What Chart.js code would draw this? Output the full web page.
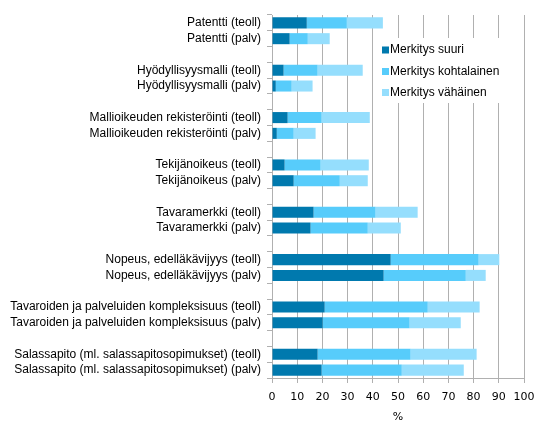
<!DOCTYPE html>
<html>
<head>
<meta charset="utf-8">
<script src="https://cdn.jsdelivr.net/npm/chart.js@4"></script>
<style>
  html, body { margin: 0; padding: 0; background: #fff; }
  #wrap { width: 550px; height: 441px; }
</style>
</head>
<body>
<div id="wrap"><canvas id="grafico" width="550" height="441"></canvas></div>
<script>
// Kategoriat (tyhjä rivi = väli ryhmien välissä)
const kategoriat = [
  "Patentti (teoll)", "Patentti (palv)", "",
  "Hyödyllisyysmalli (teoll)", "Hyödyllisyysmalli (palv)", "",
  "Mallioikeuden rekisteröinti (teoll)", "Mallioikeuden rekisteröinti (palv)", "",
  "Tekijänoikeus (teoll)", "Tekijänoikeus (palv)", "",
  "Tavaramerkki (teoll)", "Tavaramerkki (palv)", "",
  "Nopeus, edelläkävijyys (teoll)", "Nopeus, edelläkävijyys (palv)", "",
  "Tavaroiden ja palveluiden kompleksisuus (teoll)", "Tavaroiden ja palveluiden kompleksisuus (palv)", "",
  "Salassapito (ml. salassapitosopimukset) (teoll)", "Salassapito (ml. salassapitosopimukset) (palv)"
];

const suuri = [13.8, 7.0, null, 4.6, 1.5, null, 6.2, 1.9, null, 5.0, 8.6, null,
  16.5, 15.3, null, 47.1, 44.3, null, 20.9, 20.1, null, 18.1, 19.7];
const kohtalainen = [15.9, 7.2, null, 13.5, 6.3, null, 13.5, 6.7, null, 14.3, 18.3, null,
  24.6, 22.7, null, 34.9, 32.6, null, 40.9, 34.5, null, 36.9, 31.8];
const vahainen = [14.3, 8.7, null, 17.9, 8.3, null, 19.1, 8.7, null, 19.1, 11.1, null,
  16.7, 13.1, null, 8.2, 7.9, null, 20.6, 20.3, null, 26.2, 24.6];

const xTicks = [0, 10, 20, 30, 40, 50, 60, 70, 80, 90, 100];

const harmaa = "#b0b0b0";

// Selite piirretään kuvaajan sisälle valkoiselle pohjalle
const seliteSisalla = {
  id: "seliteSisalla",
  afterDatasetsDraw(chart) {
    const ctx = chart.ctx;
    ctx.save();
    ctx.fillStyle = "#fff";
    ctx.fillRect(377, 38, 145, 65);
    ctx.font = "12px 'Liberation Sans', Arial, sans-serif";
    ctx.textBaseline = "middle";
    const rivit = [50, 71.5, 92.5];
    chart.data.datasets.forEach((ds, i) => {
      ctx.fillStyle = ds.backgroundColor;
      ctx.fillRect(382, rivit[i] - 3.5, 7, 7);
      ctx.fillStyle = "#000";
      ctx.fillText(ds.label, 390, rivit[i]);
    });
    ctx.restore();
  }
};

const ctx = document.getElementById("grafico").getContext("2d");
new Chart(ctx, {
  type: "bar",
  data: {
    labels: kategoriat,
    datasets: [
      { label: "Merkitys suuri", data: suuri, backgroundColor: "#0079ae" },
      { label: "Merkitys kohtalainen", data: kohtalainen, backgroundColor: "#57ccfb" },
      { label: "Merkitys vähäinen", data: vahainen, backgroundColor: "#95defd" }
    ]
  },
  options: {
    indexAxis: "y",
    responsive: false,
    animation: false,
    datasets: { bar: { barPercentage: 0.7, categoryPercentage: 1 } },
    layout: { padding: { left: 0, top: 15, right: 26, bottom: 14 } },
    plugins: {
      legend: { display: false },
      tooltip: { enabled: false }
    },
    scales: {
      x: {
        stacked: true,
        min: 0,
        max: 100,
        afterBuildTicks: s => { s.ticks = xTicks.map(v => ({ value: v })); },
        afterFit: s => { s.height = 49; },
        grid: { color: harmaa, tickLength: 5 },
        border: { color: harmaa },
        ticks: {
          padding: 8,
          maxRotation: 0,
          minRotation: 0,
          autoSkip: false,
          color: "#000",
          font: { family: "'DejaVu Sans', Verdana, sans-serif", size: 11 }
        },
        title: {
          display: true,
          text: "%",
          color: "#000",
          padding: { top: 0, bottom: 3 },
          font: { family: "'DejaVu Sans', Verdana, sans-serif", size: 11 }
        }
      },
      y: {
        stacked: true,
        afterFit: s => { s.width = 272; },
        grid: { offset: true, drawOnChartArea: false, color: harmaa, tickLength: 5 },
        border: { color: harmaa },
        ticks: {
          autoSkip: false,
          padding: 6,
          color: "#000",
          font: { family: "'Liberation Sans', Arial, sans-serif", size: 12 }
        }
      }
    }
  },
  plugins: [seliteSisalla]
});
</script>
</body>
</html>
